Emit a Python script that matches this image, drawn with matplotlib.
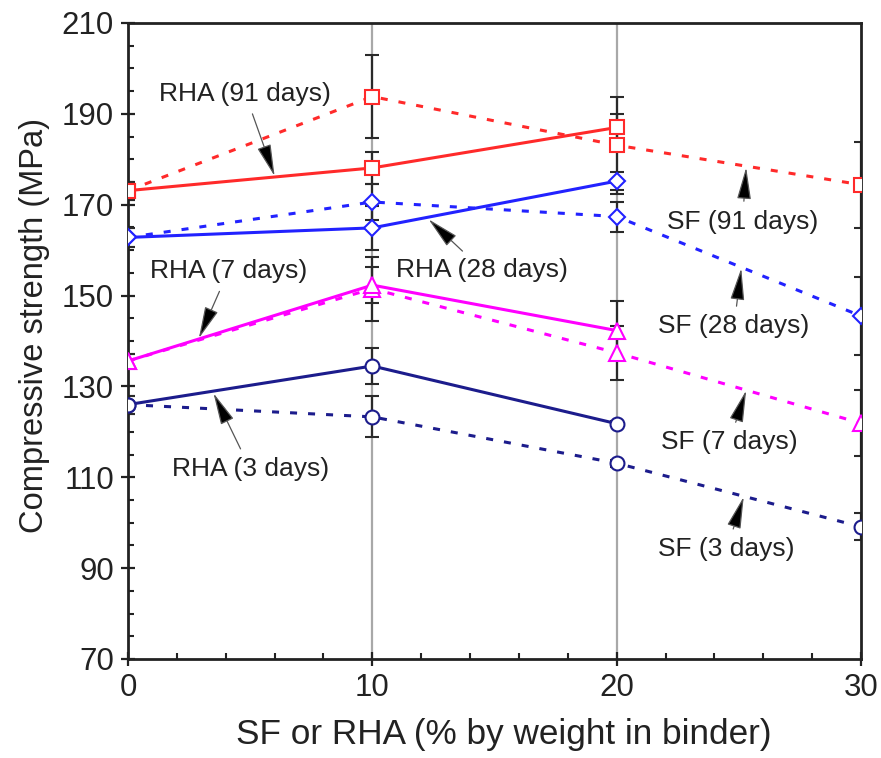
import matplotlib
matplotlib.use("Agg")
import matplotlib.pyplot as plt
from matplotlib.ticker import MultipleLocator, FixedLocator

plt.rcParams['font.family'] = ['Liberation Sans', 'DejaVu Sans']

# replacement level (% by weight in binder)
x_rha = [0, 10, 20]
x_sf = [0, 10, 20, 30]

# compressive strength (MPa)
rha_3 = [126.0, 134.5, 121.8]
sf_3 = [126.0, 123.3, 113.1, 99.1]
rha_7 = [135.6, 152.3, 142.3]
sf_7 = [135.6, 151.5, 137.4, 121.9]
rha_28 = [162.8, 164.9, 175.2]
sf_28 = [162.8, 170.6, 167.4, 145.5]
rha_91 = [173.1, 178.1, 187.0]
sf_91 = [173.1, 193.8, 183.1, 174.4]

# scatter (+/- MPa)
rha_3_err = [2.0, 4.0, 0.5]
sf_3_err = [2.0, 4.5, 0.8, 3.0]
rha_7_err = [1.5, 4.0, 6.4]
sf_7_err = [1.5, 7.0, 5.9, 7.3]
rha_28_err = [2.0, 4.8, 2.0]
sf_28_err = [2.0, 4.0, 3.3, 8.5]
rha_91_err = [2.0, 3.5, 2.9]
sf_91_err = [2.0, 9.2, 10.7, 9.5]

y_ticks = [70, 90, 110, 130, 150, 170, 190, 210]
x_ticks = [0, 10, 20, 30]

c3 = '#1c1c8c'
c7 = '#ff00ff'
c28 = '#2222ff'
c91 = '#ff2a2a'

fig = plt.figure(figsize=(8.81, 7.58), dpi=100)
ax = fig.add_axes([128/881, 1-659/758, (861-128)/881, (659-23)/758])

for xv in [10, 20]:
    ax.axvline(xv, color='#a8a8a8', lw=1.6, zorder=0)

def series(x, y, err, color, marker, ms, dashed):
    ax.errorbar(x, y, yerr=err, fmt='none', ecolor='#2a2a2a', elinewidth=1.6,
                capsize=5.0, capthick=1.5, zorder=2)
    if dashed:
        ax.plot(x, y, color=color, lw=2.2, dashes=(2.3, 3.6), zorder=3)
    else:
        ax.plot(x, y, color=color, lw=2.2, zorder=3)
    ax.plot(x, y, ls='none', marker=marker, ms=ms, mfc='white', mec=color,
            mew=1.5, zorder=4)

series(x_sf, sf_3, sf_3_err, c3, 'o', 10, True)
series(x_rha, rha_3, rha_3_err, c3, 'o', 10, False)
series(x_sf, sf_7, sf_7_err, c7, '^', 11, True)
series(x_rha, rha_7, rha_7_err, c7, '^', 11, False)
series(x_sf, sf_28, sf_28_err, c28, 'D', 8.5, True)
series(x_rha, rha_28, rha_28_err, c28, 'D', 8.5, False)
series(x_sf, sf_91, sf_91_err, c91, 's', 10, True)
series(x_rha, rha_91, rha_91_err, c91, 's', 10, False)

ax.set_xlim(0, 30)
ax.set_ylim(70, 210)
ax.xaxis.set_major_locator(FixedLocator(x_ticks))
ax.xaxis.set_minor_locator(MultipleLocator(2))
ax.yaxis.set_major_locator(FixedLocator(y_ticks))
ax.yaxis.set_minor_locator(MultipleLocator(5))
ax.tick_params(which='major', direction='inout', length=10, width=1.6,
               labelsize=22.5, pad=5, colors='#222222')
ax.tick_params(which='minor', direction='in', length=4.5, width=1.5, colors='#222222')
ax.tick_params(top=False, right=False, which='both')
for s in ax.spines.values():
    s.set_linewidth(2.0)
    s.set_color('#222222')

ax.set_xlabel('SF or RHA (% by weight in binder)', fontsize=25.3, color='#222222')
ax.xaxis.set_label_coords(0.512, -0.093)
ax.set_ylabel('Compressive strength (MPa)', fontsize=23.5, color='#222222')
ax.yaxis.set_label_coords(-0.106, 0.524)

arrow = dict(arrowstyle='-|>,head_length=1.0,head_width=0.22', fc='black',
             ec='#555555', lw=0.9, mutation_scale=20, shrinkA=4, shrinkB=0)
notes = [
    ('RHA (91 days)', (6.0, 176.3), (4.8, 194.4)),
    ('RHA (28 days)', (12.3, 166.8), (14.5, 155.7)),
    ('RHA (7 days)', (2.9, 140.6), (4.1, 155.3)),
    ('RHA (3 days)', (3.5, 128.5), (5.0, 111.9)),
    ('SF (91 days)', (25.3, 178.2), (25.15, 166.3)),
    ('SF (28 days)', (25.1, 156.0), (24.8, 143.2)),
    ('SF (7 days)', (25.3, 129.1), (24.6, 117.7)),
    ('SF (3 days)', (25.2, 105.7), (24.5, 94.2)),
]
for label, tip, pos in notes:
    ax.annotate(label, xy=tip, xytext=pos, ha='center', va='center',
                fontsize=19, color='#222222', arrowprops=arrow, zorder=5)

fig.savefig('out.png', dpi=100)
